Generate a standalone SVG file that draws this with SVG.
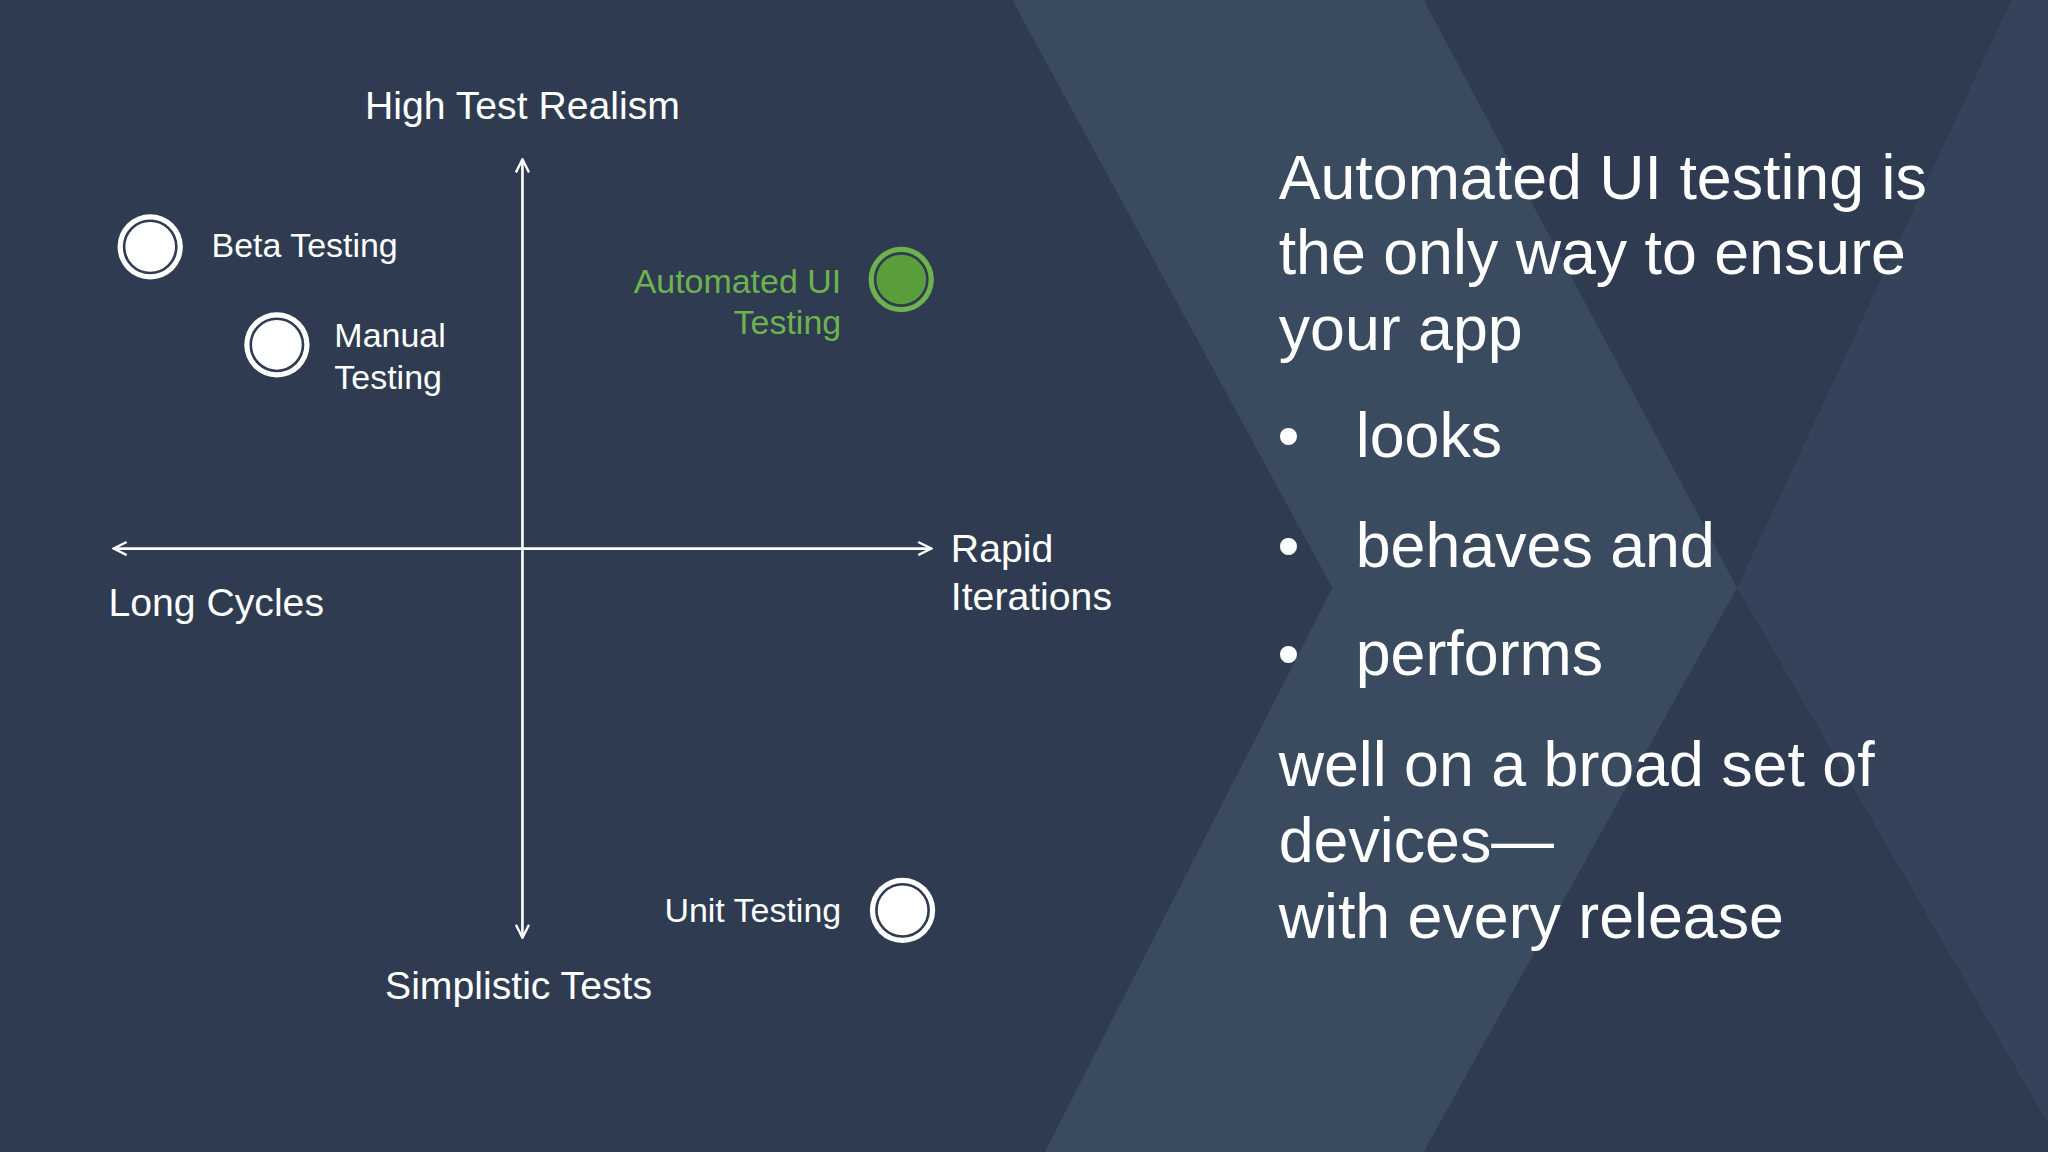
<svg xmlns="http://www.w3.org/2000/svg" width="2048" height="1152" viewBox="0 0 2048 1152">
<defs>
<style>
text{font-family:"Liberation Sans",Arial,sans-serif;fill:#fff}
.ax{font-size:30px}
.lb{font-size:26px}
.big{font-size:48px}
.g{fill:#6db24f}
.axis{stroke:#fff;stroke-width:2;fill:none}
</style>
<marker id="ah" viewBox="0 0 12 12" refX="11" refY="6" markerWidth="12" markerHeight="12" markerUnits="userSpaceOnUse" orient="auto-start-reverse"><path d="M1,1 L11,6 L1,11" fill="none" stroke="#fff" stroke-width="1.8"/></marker>
</defs>
<g transform="scale(1.30612)">
<rect width="1568" height="882" fill="#2e3b50"/>
<polygon points="775,0 1090,0 1330,450 1090,882 800,882 1020,450" fill="#3a4a5f"/>
<polygon points="1330,450 1540,0 1568,0 1568,860" fill="#34435a"/>
<g id="connectors">
<line class="axis" x1="400" y1="718" x2="400" y2="122" marker-end="url(#ah)" marker-start="url(#ah)"/>
<line class="axis" x1="87" y1="420" x2="713" y2="420" marker-end="url(#ah)" marker-start="url(#ah)"/>
</g>
<g id="axis-labels">
<text class="ax" x="400" y="91" text-anchor="middle">High Test Realism</text>
<text class="ax" x="83" y="472">Long Cycles</text>
<text class="ax" x="728" y="430">Rapid</text>
<text class="ax" x="728" y="467">Iterations</text>
<text class="ax" x="397" y="765" text-anchor="middle">Simplistic Tests</text>
</g>
<g id="beta"><circle cx="115" cy="189" r="25" fill="#fff"/><circle cx="115" cy="189" r="20" fill="#fff" stroke="#2e3b50" stroke-width="2"/><text class="lb" x="162" y="197">Beta Testing</text></g>
<g id="manual"><circle cx="212" cy="264" r="25" fill="#fff"/><circle cx="212" cy="264" r="20" fill="#fff" stroke="#2e3b50" stroke-width="2"/><text class="lb" x="256" y="266">Manual</text><text class="lb" x="256" y="298">Testing</text></g>
<g id="automated"><circle cx="690" cy="214" r="25" fill="#6db24f"/><circle cx="690" cy="214" r="20" fill="#5a9e3c" stroke="#2e3b50" stroke-width="2"/><text class="lb g" x="644" y="224" text-anchor="end">Automated UI</text><text class="lb g" x="644" y="256" text-anchor="end">Testing</text></g>
<g id="unit"><circle cx="691" cy="697" r="25" fill="#fff"/><circle cx="691" cy="697" r="20" fill="#fff" stroke="#2e3b50" stroke-width="2"/><text class="lb" x="644" y="706" text-anchor="end">Unit Testing</text></g>
<g id="statement">
<text class="big" x="979" y="152">Automated UI testing is</text>
<text class="big" x="979" y="210">the only way to ensure</text>
<text class="big" x="979" y="268">your app</text>
<text class="big" x="978" y="350">•</text><text class="big" x="1038" y="350">looks</text>
<text class="big" x="978" y="434">•</text><text class="big" x="1038" y="434">behaves and</text>
<text class="big" x="978" y="517">•</text><text class="big" x="1038" y="517">performs</text>
<text class="big" x="979" y="602">well on a broad set of</text>
<text class="big" x="979" y="660">devices—</text>
<text class="big" x="979" y="718">with every release</text>
</g>
</g>
</svg>
